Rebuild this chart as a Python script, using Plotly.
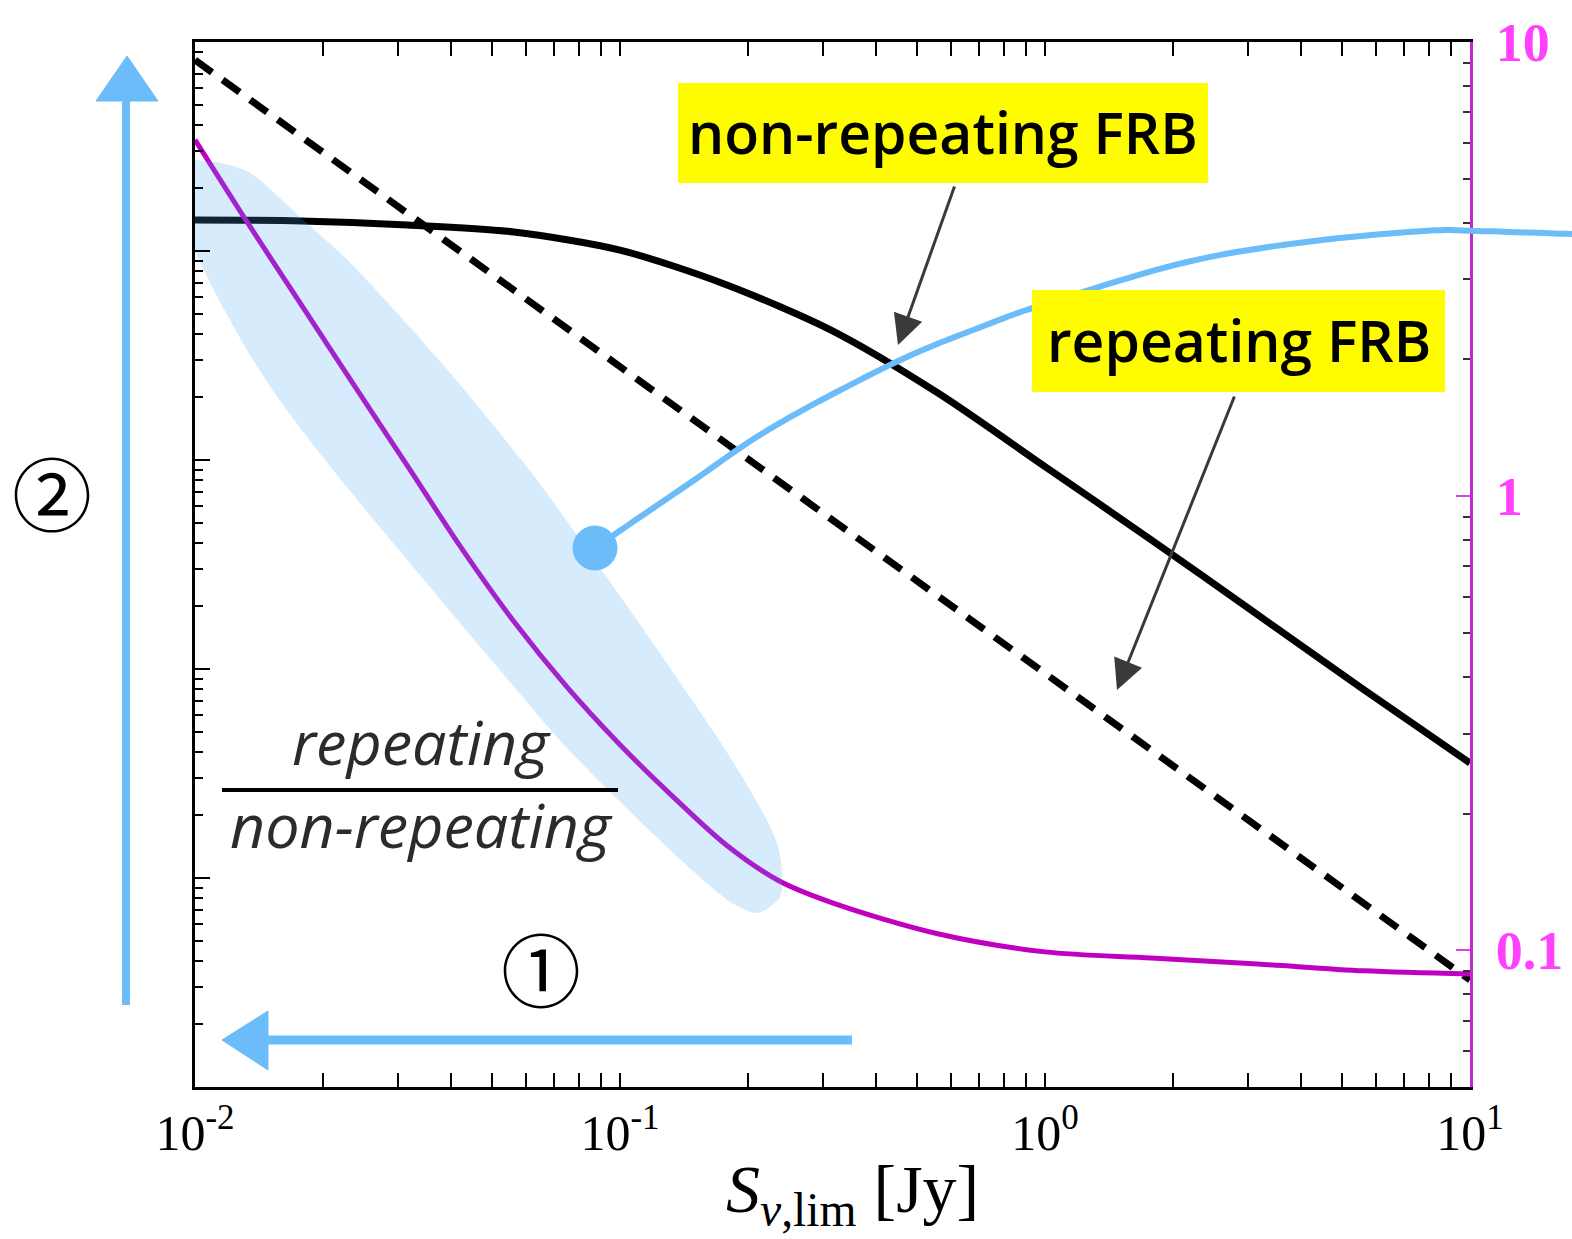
import numpy as np
import plotly.graph_objects as go

# ---------------- data ----------------
# x axis: flux limit S_nu,lim [Jy]
S_dashed = [0.01, 0.1, 1.0, 10.0]
N_dashed = [8.2, 0.28, 0.0095, 3.25e-4]          # left axis (arbitrary units)

S_solid = [0.01, 0.01778, 0.03162, 0.05623, 0.1, 0.1778, 0.3162, 0.5623, 1.0, 1.778, 3.162, 5.623, 10.0]
N_solid = [1.406, 1.393, 1.331, 1.233, 1.010, 0.690, 0.415, 0.208, 0.0930, 0.0415, 0.0182, 0.00797, 0.00355]

S_ratio = [0.01, 0.01334, 0.01778, 0.02371, 0.03162, 0.04217, 0.05623, 0.07499, 0.1, 0.1334,
           0.1778, 0.2371, 0.3162, 0.5623, 1.0, 1.778, 3.162, 5.623, 10.0]
R_ratio = [6.09, 3.98, 2.64, 1.751, 1.166, 0.773, 0.530, 0.380, 0.2834, 0.2177,
           0.1706, 0.1421, 0.1272, 0.1086, 0.0992, 0.0962, 0.0933, 0.0901, 0.0887]   # right axis

# highlighted region around the steep part of the ratio curve (x, right-axis units)
S_blob = [0.00957, 0.01146, 0.01346, 0.01766, 0.02316, 0.0398, 0.0638, 0.0746, 0.1067, 0.1462,
          0.196, 0.2355, 0.2378, 0.210, 0.1866, 0.1638, 0.117, 0.0746, 0.0476, 0.0333,
          0.0254, 0.01936, 0.0161, 0.01346, 0.01127, 0.00989, 0.00957]
R_blob = [5.51, 5.42, 5.15, 4.12, 3.27, 1.87, 1.086, 0.887, 0.553, 0.361,
          0.237, 0.169, 0.131, 0.1208, 0.1259, 0.1379, 0.184, 0.2805, 0.4586, 0.682,
          0.924, 1.265, 1.589, 2.048, 2.75, 3.54, 3.86]

x_tickvals = [0.01, 0.1, 1, 10]
x_ticktext = ["10<sup>-2</sup>", "10<sup>-1</sup>", "10<sup>0</sup>", "10<sup>1</sup>"]
y2_tickvals = [0.1, 1, 10]
y2_ticktext = ["<b>0.1</b>", "<b>1</b>", "<b>10</b>"]

# ---------------- layout geometry ----------------
W, H = 1572, 1239
L, R, T, B = 195, 1470, 42, 1087


def P(xp, yp):
    """pixel position -> paper coordinates (for hand-drawn decorations)"""
    return (xp - L) / (R - L), (B - yp) / (B - T)


def path_from(points, close=False, smooth=False, n=12):
    pts = np.array(points, dtype=float)
    if smooth and len(pts) > 2:
        ext = np.vstack([pts[0], pts, pts[-1]])
        out = []
        for i in range(1, len(ext) - 2):
            p0, p1, p2, p3 = ext[i - 1], ext[i], ext[i + 1], ext[i + 2]
            for t in np.linspace(0, 1, n, endpoint=False):
                t2, t3 = t * t, t * t * t
                out.append(0.5 * ((2 * p1) + (-p0 + p2) * t + (2 * p0 - 5 * p1 + 4 * p2 - p3) * t2
                                  + (-p0 + 3 * p1 - 3 * p2 + p3) * t3))
        out.append(pts[-1])
        pts = np.array(out)
    s = ""
    for i, (xp, yp) in enumerate(pts):
        px, py = P(xp, yp)
        s += ("M" if i == 0 else "L") + f"{px:.5f},{py:.5f} "
    if close:
        s += "Z"
    return s


BLUE = "#6bbcf8"
MAG = "#c000c0"

fig = go.Figure()

fig.add_trace(go.Scatter(x=S_solid, y=N_solid, mode="lines",
                         line=dict(color="black", width=7, shape="spline", smoothing=0.8),
                         yaxis="y", showlegend=False, hoverinfo="skip"))
fig.add_trace(go.Scatter(x=S_dashed, y=N_dashed, mode="lines",
                         line=dict(color="black", width=7, dash="21px,13px"),
                         yaxis="y", showlegend=False, hoverinfo="skip"))
fig.add_trace(go.Scatter(x=S_ratio, y=R_ratio, mode="lines",
                         line=dict(color=MAG, width=5, shape="spline", smoothing=0.9),
                         yaxis="y2", showlegend=False, hoverinfo="skip"))
fig.add_trace(go.Scatter(x=S_blob, y=R_blob, mode="lines", fill="toself",
                         fillcolor="rgba(60,160,240,0.21)", line=dict(width=0, shape="spline", smoothing=0.8),
                         yaxis="y2", showlegend=False, hoverinfo="skip"))

shapes = []
# blue annotation curve with dot
blue_curve = [(605, 541), (690, 483), (773, 427), (894, 363), (981, 327), (1051, 302),
              (1187, 262), (1306, 242), (1424, 231), (1476, 231), (1572, 234)]
shapes.append(dict(type="path", xref="paper", yref="paper", path=path_from(blue_curve, smooth=True),
                   line=dict(color=BLUE, width=6)))
cx0, cy0 = P(573, 570)
cx1, cy1 = P(617, 526)
shapes.append(dict(type="circle", xref="paper", yref="paper", x0=cx0, y0=cy0, x1=cx1, y1=cy1,
                   fillcolor=BLUE, line=dict(color=BLUE, width=1)))
# vertical arrow (2)
shapes.append(dict(type="path", xref="paper", yref="paper", path=path_from([(126, 1005), (126, 95)]),
                   line=dict(color=BLUE, width=8)))
shapes.append(dict(type="path", xref="paper", yref="paper",
                   path=path_from([(96, 101), (158, 101), (127, 56)], close=True),
                   fillcolor=BLUE, line=dict(color=BLUE, width=1)))
# horizontal arrow (1)
shapes.append(dict(type="path", xref="paper", yref="paper", path=path_from([(852, 1040), (262, 1040)]),
                   line=dict(color=BLUE, width=9)))
shapes.append(dict(type="path", xref="paper", yref="paper",
                   path=path_from([(268, 1011), (268, 1070), (222, 1040)], close=True),
                   fillcolor=BLUE, line=dict(color=BLUE, width=1)))
# yellow label boxes
for (x0, y0, x1, y1) in [(678, 83, 1208, 183), (1032, 290, 1445, 392)]:
    a0, b0 = P(x0, y1)
    a1, b1 = P(x1, y0)
    shapes.append(dict(type="rect", xref="paper", yref="paper", x0=a0, y0=b0, x1=a1, y1=b1,
                       fillcolor="#fffc00", line=dict(width=0)))
# fraction bar
f0x, f0y = P(222, 790)
f1x, f1y = P(618, 790)
shapes.append(dict(type="line", xref="paper", yref="paper", x0=f0x, y0=f0y, x1=f1x, y1=f1y,
                   line=dict(color="black", width=4)))

annotations = []


def text_at(xp, yp, text, size, family="Open Sans, sans-serif", color="black", weight="normal"):
    px, py = P(xp, yp)
    annotations.append(dict(x=px, y=py, xref="paper", yref="paper", text=text, showarrow=False,
                            xanchor="center", yanchor="middle",
                            font=dict(family=family, size=size, color=color, weight=weight)))


text_at(943, 132, "non-repeating FRB", 57, weight=600)
text_at(1239, 340, "repeating FRB", 57, weight=600)
text_at(421, 742, "<i>repeating</i>", 61, color="#2b2b2b", weight=500)
text_at(421, 824, "<i>non-repeating</i>", 61, color="#2b2b2b", weight=500)
text_at(52, 490, "②", 80, family="Noto Sans CJK JP")
text_at(541, 966, "①", 80, family="Noto Sans CJK JP")
# x-axis title
text_at(852, 1193, "<i>S</i><sub><i>ν</i>,lim</sub> [Jy]", 68, family="Liberation Serif, serif")

for (tip, tail) in [((898, 345), (955, 185)), ((1117, 690), (1235, 395))]:
    px, py = P(*tip)
    annotations.append(dict(x=px, y=py, xref="paper", yref="paper", text="", showarrow=True,
                            ax=tail[0] - tip[0], ay=tail[1] - tip[1], axref="pixel", ayref="pixel",
                            arrowhead=2, arrowsize=2.0, arrowwidth=3, arrowcolor="#3a3a3a", standoff=0))

fig.update_layout(
    width=W, height=H,
    margin=dict(l=L, r=W - R, t=T, b=H - B),
    paper_bgcolor="white", plot_bgcolor="white",
    shapes=shapes, annotations=annotations,
    xaxis=dict(type="log", range=[-2, 1], showgrid=False, zeroline=False, automargin=False,
               showline=True, linecolor="black", linewidth=3, mirror="allticks",
               ticks="inside", ticklen=14, tickwidth=2, tickcolor="black",
               tickvals=x_tickvals, ticktext=x_ticktext,
               tickfont=dict(family="Liberation Serif, serif", size=50, color="black"),
               minor=dict(ticks="inside", ticklen=7, tickwidth=1.5, tickcolor="black", dtick="D1")),
    yaxis=dict(type="log", range=[-4, 1], showgrid=False, zeroline=False, automargin=False,
               showline=True, linecolor="black", linewidth=3,
               ticks="inside", ticklen=15, tickwidth=2, tickcolor="black", dtick=1,
               showticklabels=False,
               minor=dict(ticks="inside", ticklen=8, tickwidth=1.5, tickcolor="black", dtick="D1")),
    yaxis2=dict(type="log", range=[np.log10(0.05), 1], overlaying="y", side="right", anchor="x",
                showgrid=False, zeroline=False, automargin=False,
                showline=True, linecolor="#c028d0", linewidth=3,
                ticks="inside", ticklen=14, tickwidth=2, tickcolor="#e040e0",
                tickvals=y2_tickvals, ticktext=y2_ticktext, ticklabelstandoff=12,
                tickfont=dict(family="Liberation Serif, serif", size=54, color="#ff40ff"),
                minor=dict(ticks="inside", ticklen=7, tickwidth=1.5, tickcolor="#333333", dtick="D1")),
)

fig.write_html("out.html", post_script="document.body.style.margin='0px';",
               config={"displayModeBar": False})
